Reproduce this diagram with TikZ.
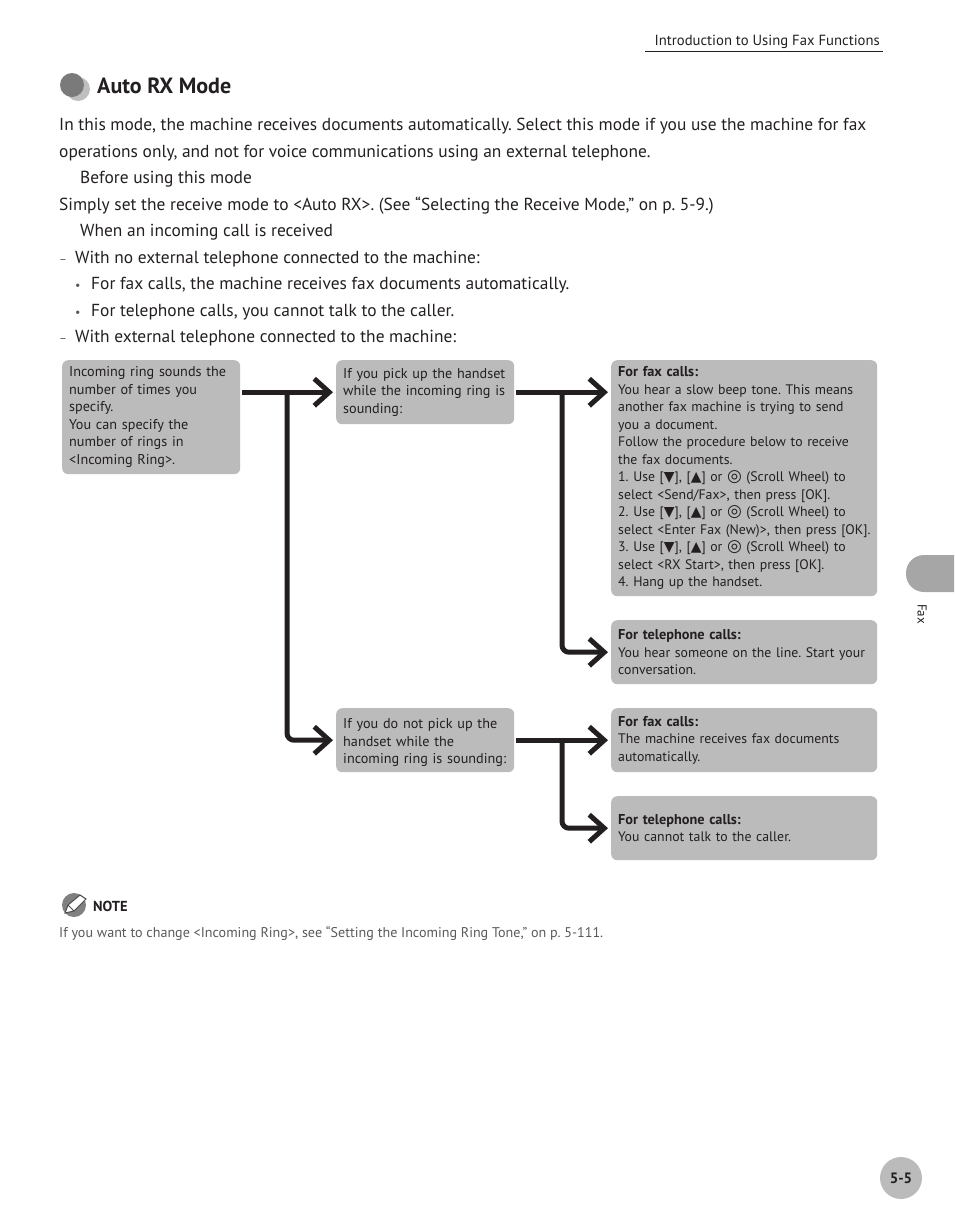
\documentclass[tikz,border=0pt]{standalone}
\usepackage{fontspec}
\usepackage{xcolor}
\usepackage{tikz}
\usetikzlibrary{arrows.meta,positioning,calc}
\setmainfont{PT Sans}
\newfontfamily\symfont{DejaVu Sans}
\definecolor{boxgray}{HTML}{BBBBBB}
\definecolor{tabgray}{HTML}{A6A6A6}
\definecolor{inkgray}{HTML}{231F20}
\newcommand{\Dn}{{\symfont\fontsize{14}{14}\selectfont ▼}}
\newcommand{\Up}{{\symfont\fontsize{14}{14}\selectfont ▲}}
\newcommand{\Wheel}{{\symfont\fontsize{17}{14}\selectfont ◎}}
\newcommand{\Hd}[1]{{\bfseries\fontsize{14.3}{17.5}\selectfont #1}}
\begin{document}
\frenchspacing
\begin{tikzpicture}[
  x=1pt, y=-1pt,
  every node/.style={inner sep=0pt, text=inkgray},
  body/.style={anchor=base west, font=\fontsize{17.4}{20}\selectfont},
  listmark/.style={anchor=base west, text=black!65, font=\fontsize{12}{20}\selectfont},
  box/.style={anchor=north west, fill=boxgray, rounded corners=6pt, inner xsep=7pt, inner ysep=0pt,
    align=left, font=\fontsize{14.2}{17.5}\selectfont},
  widebox/.style={box, text width=252pt, font=\fontsize{13.8}{17.5}\selectfont},
  arr/.style={-{Straight Barb[length=15pt,width=27pt]}, line width=5pt, inkgray, rounded corners=7pt}
]
\useasboundingbox (0,0) rectangle (954,1227);
% ---------------- page furniture
\node[anchor=base east, font=\fontsize{14.7}{18}\selectfont] (runhead) at (880,45) {Introduction to Using Fax Functions};
\draw[inkgray, line width=0.8pt] (645,51) -- (883,51);
\fill[tabgray] (954,555) [rounded corners=18pt] -- (906,555) -- (906,592) [sharp corners] -- (954,592) -- cycle;
\node[rotate=-90, font=\fontsize{13}{15}\selectfont] (sidetab) at (922,614) {Fax};
\node[circle, fill=boxgray, minimum size=42pt, font=\bfseries\fontsize{15}{18}\selectfont] (pagenum) at (901,1178) {5-5};
% ---------------- heading and body text
\fill[black!25] (78,89) circle (12pt);
\fill[black!52] (72,85) circle (12pt);
\node[body, font=\bfseries\fontsize{22}{24}\selectfont] (title) at (97,93) {Auto RX Mode};
\node[body] (intro) at (59,130) {In this mode, the machine receives documents automatically. Select this mode if you use the machine for fax};
\node[body] (introb) at (59,157) {operations only, and not for voice communications using an external telephone.};
\node[body] (before) at (80,183) {Before using this mode};
\node[body] (simply) at (59,210) {Simply set the receive mode to <Auto RX>. (See “Selecting the Receive Mode,” on p. 5-9.)};
\node[body] (when) at (80,236) {When an incoming call is received};
\node[listmark] (dasha) at (59,263) {–};
\node[body] (noext) at (75,263) {With no external telephone connected to the machine:};
\node[listmark] (dota) at (75,289) {•};
\node[body] (faxauto) at (91,289) {For fax calls, the machine receives fax documents automatically.};
\node[listmark] (dotb) at (75,316) {•};
\node[body] (telno) at (91,316) {For telephone calls, you cannot talk to the caller.};
\node[listmark] (dashb) at (59,342) {–};
\node[body] (withext) at (75,342) {With external telephone connected to the machine:};
% ---------------- flow boxes
\node[box, text width=164pt, minimum height=114pt] (ring) at (62,360) {Incoming ring sounds the\\ number of times you\\ specify.\\ You can specify the\\ number of rings in\\ <Incoming Ring>.};
\node[box, text width=164pt, minimum height=64pt] (pick) at (336,360) {If you pick up the handset\\ while the incoming ring is\\ sounding:};
\node[box, text width=164pt, minimum height=64pt] (nopick) at (336,708) {\rule{0pt}{15pt}If you do not pick up the\\ handset while the\\ incoming ring is sounding:};
\node[widebox, minimum height=236pt] (pickfax) at (611,360) {\Hd{For fax calls:}\\ You hear a slow beep tone. This means\\ another fax machine is trying to send\\ you a document.\\ Follow the procedure below to receive\\ the fax documents.\\ 1. Use [\Dn], [\Up] or \Wheel{} (Scroll Wheel) to\\ select <Send/Fax>, then press [OK].\\ 2. Use [\Dn], [\Up] or \Wheel{} (Scroll Wheel) to\\ \mbox{select <Enter Fax (New)>, then press [OK].}\\ 3. Use [\Dn], [\Up] or \Wheel{} (Scroll Wheel) to\\ select <RX Start>, then press [OK].\\ 4. Hang up the handset.};
\node[widebox, minimum height=64pt] (picktel) at (611,620) {\Hd{For telephone calls:}\\ \mbox{You hear someone on the line. Start your}\\ conversation.};
\node[widebox, minimum height=64pt] (nofax) at (611,708) {\Hd{For fax calls:}\\ The machine receives fax documents\\ automatically.};
\node[widebox, minimum height=64pt] (notel) at (611,796) {\Hd{For telephone calls:}\\ You cannot talk to the caller.};
% ---------------- arrows
\coordinate (ringjoin) at (287,392);
\coordinate (pickjoin) at (562,392);
\coordinate (nopickjoin) at (562,740);
\draw[arr] ([xshift=2pt]ring.east |- pick.west) -- ([xshift=-3pt]pick.west);
\draw[arr] (ringjoin) |- ([xshift=-3pt]nopick.west);
\draw[arr] ([xshift=2pt]pick.east) -- ([xshift=-3pt]pickfax.west |- pick.west);
\draw[arr] (pickjoin) |- ([xshift=-3pt]picktel.west);
\draw[arr] ([xshift=2pt]nopick.east) -- ([xshift=-3pt]nofax.west);
\draw[arr] (nopickjoin) |- ([xshift=-3pt]notel.west);
% ---------------- note
\fill[black!50] (74,905) circle (12pt);
\fill[white] (65,913) -- (68,905) -- (80,895) -- (86,899) -- (74,911) -- cycle;
\draw[black!70, line width=1pt] (65,913) -- (68,905) -- (80,895) -- (86,899) -- (74,911) -- cycle (68,905) -- (74,911);
\node[anchor=base west, font=\bfseries\fontsize{14.5}{17}\selectfont] (notehead) at (93,911) {NOTE};
\node[anchor=base west, text=black!65, font=\fontsize{14.1}{17}\selectfont] (notetext) at (59,937) {If you want to change <Incoming Ring>, see “Setting the Incoming Ring Tone,” on p. 5-111.};
\end{tikzpicture}
\end{document}
